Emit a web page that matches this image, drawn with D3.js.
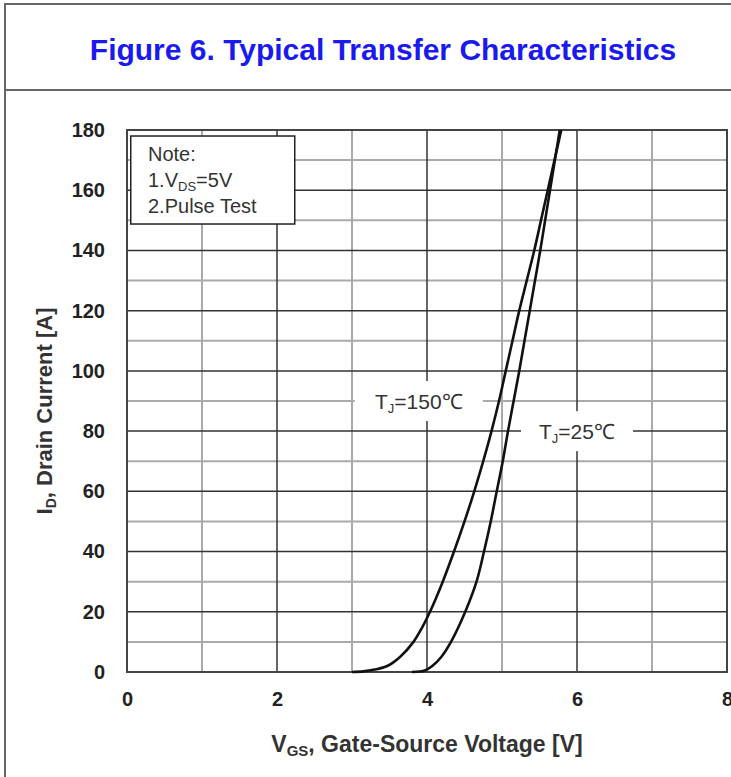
<!DOCTYPE html>
<html>
<head>
<meta charset="utf-8">
<script src="https://cdn.jsdelivr.net/npm/d3@7"></script>
<style>
  body { margin: 0; background: #fff; }
  svg { display: block; }
</style>
</head>
<body>
<svg id="chart" width="731" height="777"></svg>
<script>
// VGS [V] vs ID [A]
const vgs150 = [3.0, 3.15, 3.3, 3.47, 3.64, 3.82, 3.94, 4.04, 4.21, 4.36, 4.50, 4.63, 4.75, 4.86, 4.96, 5.05, 5.14, 5.23, 5.33, 5.43, 5.52, 5.61, 5.70, 5.79];
const id150  = [0, 0.2, 0.8, 2, 5, 10, 15, 20, 30, 40, 50, 60, 70, 80, 90, 100, 110, 120, 130, 140, 150, 160, 170, 180];
const vgs25  = [3.8, 3.9, 3.97, 4.07, 4.19, 4.32, 4.51, 4.66, 4.76, 4.85, 4.93, 5.01, 5.08, 5.155, 5.23, 5.30, 5.37, 5.44, 5.51, 5.575, 5.64, 5.705, 5.77];
const id25   = [0, 0.15, 0.5, 2, 5, 10, 20, 30, 40, 50, 60, 70, 80, 90, 100, 110, 120, 130, 140, 150, 160, 170, 180];

const xTicks = [0, 2, 4, 6, 8];
const yTicks = [0, 20, 40, 60, 80, 100, 120, 140, 160, 180];
const xGrid = d3.range(0, 9, 1);
const yGrid = d3.range(0, 190, 10);

const curves = [
    { name: "150", vgs: vgs150, id: id150, label: ["T", "J", "=150\u2103"], at: [3.89, 90] },
    { name: "25", vgs: vgs25, id: id25, label: ["T", "J", "=25\u2103"], at: [6.0, 80] }
];

const svg = d3.select("#chart");
const W = 731, H = 777;
const margin = { top: 130, right: 4, bottom: 105, left: 127 };

const x = d3.scaleLinear().domain([0, 8]).range([margin.left, W - margin.right]);
const y = d3.scaleLinear().domain([0, 180]).range([H - margin.bottom, margin.top]);

// outer frame + title strip
svg.append("rect")
    .attr("x", 5).attr("y", 4)
    .attr("width", W + 10).attr("height", H + 10)
    .attr("fill", "none").attr("stroke", "#666").attr("stroke-width", 2);
svg.append("line")
    .attr("x1", 5).attr("x2", W).attr("y1", 90).attr("y2", 90)
    .attr("stroke", "#666").attr("stroke-width", 2);

svg.append("text")
    .attr("x", 383).attr("y", 60)
    .attr("text-anchor", "middle")
    .attr("font-family", "Liberation Sans, Arial, sans-serif")
    .attr("font-weight", "bold")
    .attr("font-size", 30)
    .attr("fill", "#1a1aee")
    .text("Figure 6. Typical Transfer Characteristics");

// grid: light minor lines first, dark major on top
const minorX = xGrid.filter(d => d % 2 !== 0);
const majorX = xGrid.filter(d => d % 2 === 0);
const minorY = yGrid.filter(d => d % 20 !== 0);
const majorY = yGrid.filter(d => d % 20 === 0);

const grid = svg.append("g");
grid.selectAll(".vminor").data(minorX).join("line")
    .attr("x1", d => x(d)).attr("x2", d => x(d))
    .attr("y1", y(0)).attr("y2", y(180))
    .attr("stroke", "#aaa").attr("stroke-width", 2);
grid.selectAll(".hminor").data(minorY).join("line")
    .attr("x1", x(0)).attr("x2", x(8))
    .attr("y1", d => y(d)).attr("y2", d => y(d))
    .attr("stroke", "#aaa").attr("stroke-width", 2);
grid.selectAll(".vmajor").data(majorX).join("line")
    .attr("x1", d => x(d)).attr("x2", d => x(d))
    .attr("y1", y(0)).attr("y2", y(180))
    .attr("stroke", "#333").attr("stroke-width", 1.5);
grid.selectAll(".hmajor").data(majorY).join("line")
    .attr("x1", x(0)).attr("x2", x(8))
    .attr("y1", d => y(d)).attr("y2", d => y(d))
    .attr("stroke", "#333").attr("stroke-width", 1.5);

svg.append("rect")
    .attr("x", x(0)).attr("y", y(180))
    .attr("width", x(8) - x(0)).attr("height", y(0) - y(180))
    .attr("fill", "none").attr("stroke", "#444").attr("stroke-width", 2);

// axes (labels only, grid does the lines)
const tickFont = "Liberation Sans, Arial, sans-serif";
const xAxis = svg.append("g")
    .attr("transform", `translate(0,${y(0)})`)
    .call(d3.axisBottom(x).tickValues(xTicks).tickSize(0).tickPadding(20).tickFormat(d3.format("d")));
const yAxis = svg.append("g")
    .attr("transform", `translate(${x(0)},0)`)
    .call(d3.axisLeft(y).tickValues(yTicks).tickSize(0).tickPadding(22).tickFormat(d3.format("d")));
[xAxis, yAxis].forEach(a => {
    a.select(".domain").remove();
    a.selectAll("text")
        .attr("font-family", tickFont)
        .attr("font-weight", "bold")
        .attr("font-size", 20)
        .attr("fill", "#222");
});

// curves
const line = d3.line()
    .x(d => x(d[0]))
    .y(d => y(d[1]))
    .curve(d3.curveCatmullRom.alpha(0.5));

svg.append("g").selectAll("path")
    .data(curves)
    .join("path")
    .attr("d", c => line(c.vgs.map((v, i) => [v, c.id[i]])))
    .attr("fill", "none")
    .attr("stroke", "#111")
    .attr("stroke-width", 2.6);

// curve labels on white patches
curves.forEach(c => {
    const g = svg.append("g")
        .attr("transform", `translate(${x(c.at[0])},${y(c.at[1])})`);
    const bw = c.name === "150" ? 128 : 112;
    g.append("rect")
        .attr("x", -bw / 2).attr("y", -20)
        .attr("width", bw).attr("height", 40)
        .attr("fill", "#fff");
    const t = g.append("text")
        .attr("y", 8)
        .attr("text-anchor", "middle")
        .attr("font-family", tickFont)
        .attr("font-size", 21)
        .attr("fill", "#333");
    t.append("tspan").text(c.label[0]);
    t.append("tspan").attr("font-size", 13).attr("dy", 4).text(c.label[1]);
    t.append("tspan").attr("dy", -4).text(c.label[2]);
});

// note box
const note = svg.append("g");
note.append("rect")
    .attr("x", x(0.05)).attr("y", y(178))
    .attr("width", 164).attr("height", 88)
    .attr("fill", "#fff").attr("stroke", "#222").attr("stroke-width", 1.5);
const noteText = note.append("g")
    .attr("font-family", "Liberation Sans, Arial, sans-serif")
    .attr("font-size", 20)
    .attr("fill", "#333");
noteText.append("text").attr("x", x(0.28)).attr("y", 161).text("Note:");
const n1 = noteText.append("text").attr("x", x(0.28)).attr("y", 187);
n1.append("tspan").text("1.V");
n1.append("tspan").attr("font-size", 13).attr("dy", 4).text("DS");
n1.append("tspan").attr("dy", -4).text("=5V");
noteText.append("text").attr("x", x(0.28)).attr("y", 213).text("2.Pulse Test");

// axis titles
const xt = svg.append("text")
    .attr("x", x(4)).attr("y", 752)
    .attr("text-anchor", "middle")
    .attr("font-family", tickFont)
    .attr("font-weight", "bold")
    .attr("font-size", 23)
    .attr("fill", "#333");
xt.append("tspan").text("V");
xt.append("tspan").attr("font-size", 15).attr("dy", 4).text("GS");
xt.append("tspan").attr("dy", -4).text(", Gate-Source Voltage [V]");

const yt = svg.append("text")
    .attr("transform", `translate(52,${y(90) + 10}) rotate(-90)`)
    .attr("text-anchor", "middle")
    .attr("font-family", tickFont)
    .attr("font-weight", "bold")
    .attr("font-size", 22)
    .attr("fill", "#333");
yt.append("tspan").text("I");
yt.append("tspan").attr("font-size", 14).attr("dy", 4).text("D");
yt.append("tspan").attr("dy", -4).text(", Drain Current [A]");
</script>
</body>
</html>
